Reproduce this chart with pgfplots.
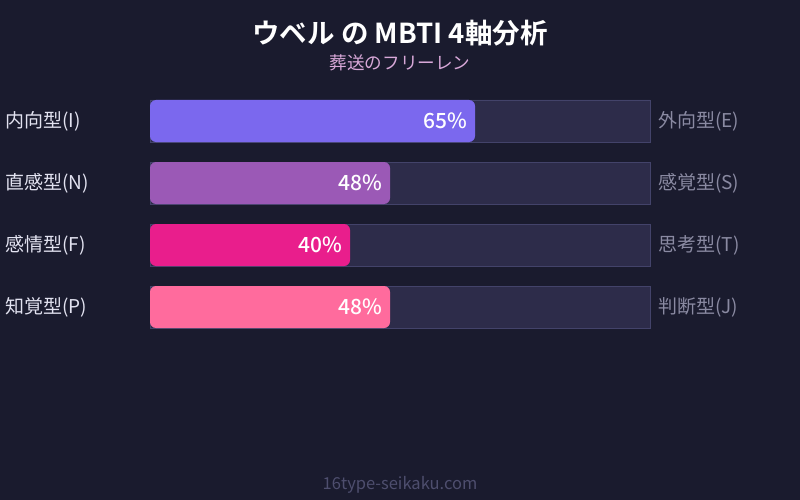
\documentclass[border=0pt]{standalone}
\usepackage{pgfplots}
\pgfplotsset{compat=1.18}
\usepackage{fontspec}
\setmainfont{Noto Sans CJK JP}[BoldFont={Noto Sans CJK JP Bold}]
\newfontfamily\medfont{Noto Sans CJK JP Medium}
\definecolor{bg}{HTML}{1A1B2E}
\definecolor{track}{HTML}{2D2C4A}
\definecolor{trackline}{HTML}{43436A}
\definecolor{cI}{HTML}{7B68EE}
\definecolor{cN}{HTML}{9B59B6}
\definecolor{cF}{HTML}{E91E8C}
\definecolor{cP}{HTML}{FF6B9D}
\definecolor{lefttxt}{HTML}{E2E2F0}
\definecolor{righttxt}{HTML}{8A8AA2}
\definecolor{subtxt}{HTML}{D8A8D8}
\definecolor{foot}{HTML}{4E4E6E}
\begin{document}
\begin{tikzpicture}
\fill[bg] (0,0) rectangle (800pt,500pt);
\begin{axis}[
  at={(0,0)}, anchor=south west,
  scale only axis, width=800pt, height=500pt,
  xmin=-30, xmax=130, ymin=0, ymax=500,
  y dir=reverse,
  hide axis,
  clip=false,
  xbar, bar width=42pt, bar shift=0pt,
  vl/.style={every node near coord/.style={anchor=east, xshift=-8pt, inner sep=0pt, text=white, font=\medfont\fontsize{21}{25}\selectfont}},
]
% tracks
\addplot[fill=track, draw=trackline, line width=0.6pt] coordinates {(100,121) (100,183) (100,245) (100,307)};
% value bars
\addplot[fill=cI, draw=none, rounded corners=6pt, vl, nodes near coords={65\%}] coordinates {(65,121)};
\addplot[fill=cN, draw=none, rounded corners=6pt, vl, nodes near coords={48\%}] coordinates {(48,183)};
\addplot[fill=cF, draw=none, rounded corners=6pt, vl, nodes near coords={40\%}] coordinates {(40,245)};
\addplot[fill=cP, draw=none, rounded corners=6pt, vl, nodes near coords={48\%}] coordinates {(48,307)};
% left labels
\node[anchor=west, text=lefttxt, font=\fontsize{19}{23}\selectfont, inner sep=0pt] at (axis cs:-29,121) {内向型(I)};
\node[anchor=west, text=lefttxt, font=\fontsize{19}{23}\selectfont, inner sep=0pt] at (axis cs:-29,183) {直感型(N)};
\node[anchor=west, text=lefttxt, font=\fontsize{19}{23}\selectfont, inner sep=0pt] at (axis cs:-29,245) {感情型(F)};
\node[anchor=west, text=lefttxt, font=\fontsize{19}{23}\selectfont, inner sep=0pt] at (axis cs:-29,307) {知覚型(P)};
% right labels
\node[anchor=west, text=righttxt, font=\fontsize{19}{23}\selectfont, inner sep=0pt] at (axis cs:101.6,121) {外向型(E)};
\node[anchor=west, text=righttxt, font=\fontsize{19}{23}\selectfont, inner sep=0pt] at (axis cs:101.6,183) {感覚型(S)};
\node[anchor=west, text=righttxt, font=\fontsize{19}{23}\selectfont, inner sep=0pt] at (axis cs:101.6,245) {思考型(T)};
\node[anchor=west, text=righttxt, font=\fontsize{19}{23}\selectfont, inner sep=0pt] at (axis cs:101.6,307) {判断型(J)};
% titles
\node[text=white, font=\bfseries\fontsize{27.5}{32}\selectfont] at (axis cs:50,33) {ウベル の MBTI 4軸分析};
\node[text=subtxt, font=\fontsize{17.6}{21}\selectfont] at (axis cs:50,63) {葬送のフリーレン};
\node[text=foot, font=\fontsize{16.5}{20}\selectfont] at (axis cs:50,485) {16type-seikaku.com};
\end{axis}
\end{tikzpicture}
\end{document}
